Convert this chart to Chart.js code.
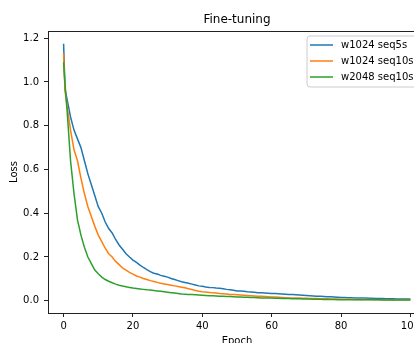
<!DOCTYPE html>
<html>
<head>
<meta charset="utf-8">
<script src="https://cdn.jsdelivr.net/npm/chart.js@4/dist/chart.umd.min.js"></script>
<style>
html,body{margin:0;padding:0;background:#fff;}
#wrap{width:414px;height:343px;overflow:hidden;position:relative;}
canvas{display:block;}
</style>
</head>
<body>
<div id="wrap"><canvas id="c" width="440" height="343"></canvas></div>
<script>
const epochs = [0,0.4,1,2,3,4,5,6,7,8,9,10,11,12,13,14,15,16,17,18,19,20,21,22,23,24,25,26,27,28,29,30,31,32,33,34,35,36,37,38,39,40,41,42,43,44,45,46,47,48,49,50,51,52,53,54,55,56,57,58,59,60,61,62,63,64,65,66,67,68,69,70,71,72,73,74,75,76,77,78,79,80,81,82,83,84,85,86,87,88,89,90,91,92,93,94,95,96,97,98,99,100];

const seriesNames = ["w1024 seq5s", "w1024 seq10s", "w2048 seq10s"];

const lossW1024Seq5s = [
1.175,0.97,0.92,0.84,0.78,0.74,0.70,0.64,0.58,0.53,0.48,
0.43,0.40,0.36,0.33,0.31,0.28,0.255,0.235,0.215,0.20,
0.186,0.175,0.163,0.152,0.142,0.133,0.126,0.122,0.116,0.112,
0.108,0.102,0.097,0.092,0.087,0.083,0.080,0.076,0.072,0.068,
0.066,0.063,0.061,0.060,0.058,0.057,0.055,0.052,0.050,0.048,
0.045,0.044,0.043,0.041,0.040,0.039,0.037,0.036,0.035,0.034,
0.033,0.033,0.032,0.031,0.030,0.029,0.028,0.027,0.026,0.025,
0.024,0.023,0.022,0.021,0.020,0.019,0.018,0.018,0.017,0.016,
0.015,0.015,0.014,0.014,0.013,0.013,0.012,0.012,0.011,0.011,
0.010,0.010,0.010,0.009,0.009,0.009,0.008,0.008,0.008,0.008,0.008];

const lossW1024Seq10s = [
1.13,0.96,0.89,0.78,0.69,0.64,0.56,0.49,0.43,0.385,0.34,
0.30,0.27,0.24,0.215,0.20,0.18,0.165,0.150,0.140,0.130,
0.122,0.113,0.108,0.102,0.097,0.092,0.088,0.084,0.080,0.077,
0.074,0.071,0.068,0.065,0.062,0.059,0.055,0.051,0.047,0.043,
0.041,0.040,0.038,0.036,0.035,0.033,0.032,0.031,0.029,0.028,
0.027,0.026,0.025,0.024,0.023,0.022,0.021,0.020,0.019,0.018,
0.017,0.017,0.016,0.015,0.014,0.013,0.013,0.012,0.012,0.011,
0.011,0.010,0.010,0.010,0.009,0.009,0.009,0.008,0.008,0.008,
0.007,0.007,0.007,0.007,0.006,0.006,0.006,0.006,0.006,0.006,
0.005,0.005,0.005,0.005,0.005,0.005,0.005,0.005,0.005,0.005,0.005];

const lossW2048Seq10s = [
1.09,0.99,0.87,0.64,0.49,0.37,0.30,0.245,0.20,0.17,0.14,
0.123,0.108,0.097,0.089,0.082,0.076,0.071,0.067,0.064,0.061,
0.058,0.056,0.054,0.052,0.050,0.049,0.047,0.045,0.043,0.041,
0.039,0.037,0.035,0.033,0.031,0.030,0.029,0.028,0.027,0.026,
0.025,0.024,0.023,0.023,0.022,0.021,0.020,0.019,0.019,0.018,
0.017,0.017,0.016,0.016,0.015,0.015,0.014,0.013,0.013,0.012,
0.012,0.011,0.011,0.010,0.010,0.010,0.009,0.009,0.009,0.008,
0.008,0.008,0.007,0.007,0.007,0.006,0.006,0.006,0.006,0.005,
0.005,0.005,0.005,0.005,0.004,0.004,0.004,0.004,0.004,0.004,
0.004,0.004,0.003,0.003,0.003,0.003,0.003,0.003,0.003,0.003,0.003];

const xTicks = [0,20,40,60,80,100];
const yTicks = [0.0,0.2,0.4,0.6,0.8,1.0,1.2];
const colors = ["#1f77b4", "#ff7f0e", "#2ca02c"];
const FONT = "'DejaVu Sans', sans-serif";

function toPts(arr){ return epochs.map((e,i)=>({x:e, y:arr[i]})); }

const seriesData = [lossW1024Seq5s, lossW1024Seq10s, lossW2048Seq10s];

const decor = {
  id: 'decor',
  afterDraw(chart){
    const ctx = chart.ctx, a = chart.chartArea;
    ctx.save();
    ctx.strokeStyle = '#222';
    ctx.lineWidth = 1;
    ctx.strokeRect(Math.round(a.left)+0.5, Math.round(a.top)+0.5, Math.round(a.right-a.left), Math.round(a.bottom-a.top));
    ctx.fillStyle = '#000';
    ctx.font = '12px ' + FONT;
    ctx.textAlign = 'center';
    ctx.textBaseline = 'middle';
    ctx.fillText('Fine-tuning', (a.left+a.right)/2, 20);
    ctx.font = '10px ' + FONT;
    ctx.fillText('Epoch', (a.left+a.right)/2, 341);
    ctx.save();
    ctx.translate(14, (a.top+a.bottom)/2);
    ctx.rotate(-Math.PI/2);
    ctx.fillText('Loss', 0, 0);
    ctx.restore();
    const lx = 307, ly = 36, lw = 110, lh = 51, r = 3;
    ctx.beginPath();
    ctx.moveTo(lx+r, ly);
    ctx.lineTo(lx+lw-r, ly); ctx.quadraticCurveTo(lx+lw, ly, lx+lw, ly+r);
    ctx.lineTo(lx+lw, ly+lh-r); ctx.quadraticCurveTo(lx+lw, ly+lh, lx+lw-r, ly+lh);
    ctx.lineTo(lx+r, ly+lh); ctx.quadraticCurveTo(lx, ly+lh, lx, ly+lh-r);
    ctx.lineTo(lx, ly+r); ctx.quadraticCurveTo(lx, ly, lx+r, ly);
    ctx.closePath();
    ctx.fillStyle = 'rgba(255,255,255,0.8)';
    ctx.fill();
    ctx.strokeStyle = '#cccccc';
    ctx.lineWidth = 1;
    ctx.stroke();
    ctx.textAlign = 'left';
    ctx.textBaseline = 'middle';
    ctx.font = '10px ' + FONT;
    seriesNames.forEach((n,i)=>{
      const y = 45 + i*16;
      ctx.strokeStyle = colors[i];
      ctx.lineWidth = 1.5;
      ctx.beginPath(); ctx.moveTo(310, y); ctx.lineTo(333, y); ctx.stroke();
      ctx.fillStyle = '#000';
      ctx.fillText(n, 341, y+0.5);
    });
    ctx.restore();
  }
};

new Chart(document.getElementById('c'), {
  type: 'line',
  data: {
    datasets: seriesNames.map((n,i)=>({
      label: n,
      data: toPts(seriesData[i]),
      borderColor: colors[i],
      backgroundColor: colors[i],
      borderWidth: 1.5,
      pointRadius: 0,
      tension: 0,
      fill: false,
      order: 2 - i
    }))
  },
  options: {
    responsive: false,
    animation: false,
    layout: { padding: { top: 31, right: 14, left: 0, bottom: 0 } },
    plugins: { legend: { display: false }, title: { display: false }, tooltip: { enabled: false } },
    scales: {
      x: {
        type: 'linear', min: -4.5, max: 104.5,
        afterBuildTicks: s => { s.ticks = xTicks.map(v=>({value:v})); },
        afterFit: s => { s.height = 30; },
        grid: { drawOnChartArea: false, drawTicks: true, tickLength: 4, tickColor: '#222', tickWidth: 1 },
        border: { display: false },
        ticks: { font: { family: FONT, size: 10 }, color: '#000', padding: 3, maxRotation: 0, callback: v => String(v) }
      },
      y: {
        type: 'linear', min: -0.056, max: 1.233,
        afterBuildTicks: s => { s.ticks = yTicks.map(v=>({value:v})); },
        afterFit: s => { s.width = 48; },
        grid: { drawOnChartArea: false, drawTicks: true, tickLength: 4, tickColor: '#222', tickWidth: 1 },
        border: { display: false },
        ticks: { font: { family: FONT, size: 10 }, color: '#000', padding: 5, callback: v => v.toFixed(1) }
      }
    }
  },
  plugins: [decor]
});
</script>
</body>
</html>
